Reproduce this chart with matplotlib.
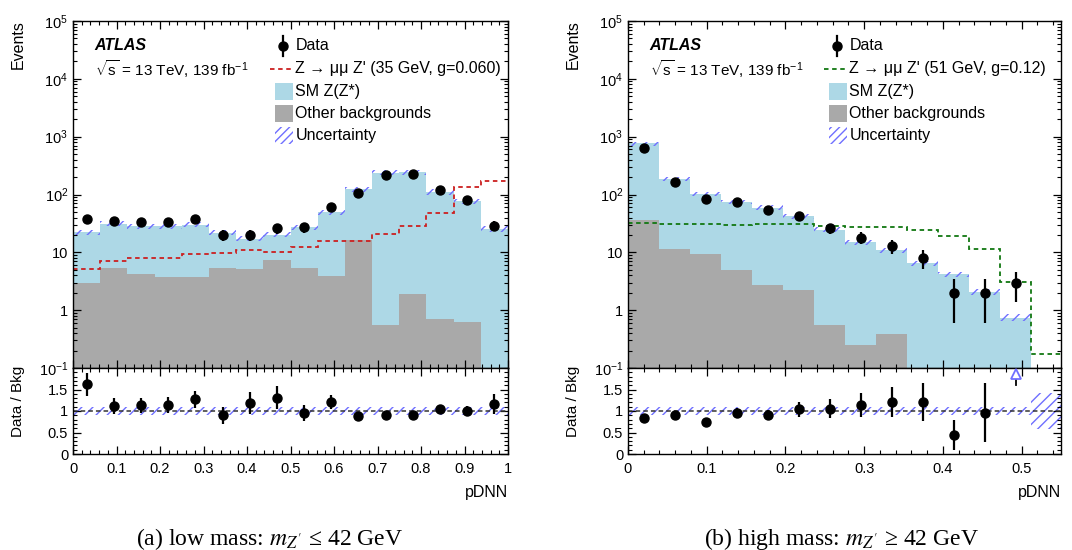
import numpy as np
import matplotlib
matplotlib.use("Agg")
import matplotlib.pyplot as plt
from matplotlib.patches import Rectangle
from matplotlib.ticker import FixedLocator, MultipleLocator, LogLocator, NullFormatter

plt.rcParams['font.family'] = ['Liberation Sans', 'DejaVu Sans']
plt.rcParams['mathtext.fontset'] = 'custom'
plt.rcParams['mathtext.rm'] = 'Liberation Sans'
plt.rcParams['mathtext.it'] = 'Liberation Sans:italic'
plt.rcParams['mathtext.bf'] = 'Liberation Sans:bold'
plt.rcParams['hatch.linewidth'] = 1.0

HATCH = '#6f6fff'
plt.rcParams['hatch.color'] = HATCH
SMZ_COL = '#add8e6'
OTHER_COL = '#a9a9a9'

# ---------------- low mass (a) ----------------
low_edges = np.linspace(0, 1, 17)
low_smz = [19.5, 26.0, 24.4, 24.9, 26.3, 16.5, 12.2, 13.0, 22.1, 45.5, 107.4, 236.4, 241.1, 110.3, 75.9, 25.4]
low_other = [2.95, 5.4, 4.2, 3.75, 3.75, 5.4, 5.1, 7.3, 5.4, 3.9, 16.2, 0.56, 1.9, 0.69, 0.62, 0.05]
low_signal = [5.2, 7.1, 8.0, 8.0, 9.5, 9.8, 11.1, 10.2, 12.4, 15.7, 15.9, 21.1, 28.6, 48.0, 134, 172]
low_data = [37, 35, 33, 33, 38, 20, 20, 26, 27, 60, 108, 216, 224, 119, 80, 29]
low_data_err = [6.1, 5.9, 5.7, 5.7, 6.2, 4.5, 4.5, 5.1, 5.2, 7.7, 10.4, 14.7, 15.0, 10.9, 8.9, 5.4]
low_unc = [0.1] * 16
low_ratio = [1.62, 1.12, 1.13, 1.14, 1.27, 0.90, 1.18, 1.31, 0.96, 1.21, 0.88, 0.91, 0.91, 1.04, 1.00, 1.16]
low_ratio_err = [0.27, 0.18, 0.18, 0.18, 0.20, 0.20, 0.26, 0.26, 0.19, 0.16, 0.09, 0.06, 0.06, 0.09, 0.11, 0.23]

# ---------------- high mass (b) ----------------
high_edges = np.linspace(0, 0.512, 14)
high_sig_edges = np.append(high_edges, 0.551)
high_smz = [726, 177.5, 91.5, 69.6, 56.7, 39.8, 24.2, 14.85, 10.5, 6.56, 4.17, 2.07, 0.741]
high_other = [36, 11.5, 9.5, 4.9, 2.7, 2.2, 0.56, 0.25, 0.38, 0.0, 0.0, 0.0, 0.0]
high_signal = [32.7, 31.4, 30.6, 29.7, 30.3, 31.4, 28.3, 27.5, 27.5, 24.1, 19.5, 11.6, 3.08, 0.172]
high_data = [625, 165, 83, 73, 55, 43, 26, 18, 13, 8, 2, 2, 3]
high_data_lo = [25, 12.8, 9.1, 8.5, 7.4, 6.6, 5.1, 4.2, 3.6, 2.8, 1.4, 1.4, 1.6]
high_data_hi = [25, 12.8, 9.1, 8.5, 7.4, 6.6, 5.1, 4.2, 3.6, 3.1, 1.5, 1.5, 1.6]
high_unc = [0.08, 0.08, 0.08, 0.08, 0.09, 0.09, 0.09, 0.1, 0.1, 0.1, 0.11, 0.12, 0.14]
high_ratio_unc = [0.09, 0.09, 0.09, 0.09, 0.09, 0.09, 0.09, 0.09, 0.09, 0.09, 0.09, 0.09, 0.09, 0.42]
high_ratio = [0.83, 0.90, 0.75, 0.95, 0.90, 1.04, 1.05, 1.14, 1.20, 1.20, 0.44, 0.96, 4.05]
high_ratio_err = [0.05, 0.07, 0.08, 0.11, 0.12, 0.17, 0.22, 0.29, 0.35, 0.44, 0.34, 0.69, 2.45]

W, H = 1072, 550
fig = plt.figure(figsize=(W / 100, H / 100), dpi=100)


def px(x0, y0, x1, y1):
    return [x0 / W, 1 - y1 / H, (x1 - x0) / W, (y1 - y0) / H]


def style_axis(ax):
    ax.tick_params(which='both', direction='in', top=True, right=True, labelsize=10.5)
    ax.tick_params(which='major', length=5.5, width=0.9)
    ax.tick_params(which='minor', length=3, width=0.8)
    for s in ax.spines.values():
        s.set_linewidth(1.0)


def draw_panel(x0, x1, edges, sig_edges, smz, other, signal, sig_color, data, dlo, dhi,
               unc, ratio, ratio_err, ratio_unc, ratio_unc_edges, xmax, sig_label, caption, cap_x):
    edges = np.asarray(edges)
    centers = 0.5 * (edges[1:] + edges[:-1])
    smz = np.asarray(smz)
    other = np.asarray(other)
    total = smz + other
    unc = np.asarray(unc)

    ax = fig.add_axes(px(x0, 21, x1, 368))
    rx = fig.add_axes(px(x0, 368, x1, 454))

    # stacked backgrounds
    ax.stairs(total, edges, baseline=1e-3, fill=True, color=SMZ_COL, lw=0)
    ax.stairs(np.where(other > 0, other, 1e-3), edges, baseline=1e-3, fill=True, color=OTHER_COL, lw=0)
    # uncertainty band
    ax.stairs(total * (1 + unc), edges, baseline=total * (1 - unc), fill=True,
              facecolor='none', edgecolor=HATCH, hatch='///', lw=0)
    # signal
    ax.stairs(signal, sig_edges, baseline=None, color=sig_color, lw=1.3, ls=(0, (2.5, 2)))
    # data
    ax.errorbar(centers, data, yerr=[dlo, dhi], fmt='o', color='black', ms=6.5,
                elinewidth=1.6, capsize=0, zorder=5)

    ax.set_yscale('log')
    ax.set_ylim(0.1, 1e5)
    ax.set_xlim(0, xmax)
    ax.yaxis.set_major_locator(FixedLocator([0.1, 1, 10, 100, 1e3, 1e4, 1e5]))
    ax.set_yticklabels(['$10^{-1}$', '1', '10', '$10^2$', '$10^3$', '$10^4$', '$10^5$'])
    ax.yaxis.set_minor_locator(LogLocator(subs=np.arange(2, 10)))
    ax.yaxis.set_minor_formatter(NullFormatter())
    ax.xaxis.set_major_locator(MultipleLocator(0.1))
    ax.xaxis.set_minor_locator(MultipleLocator(0.02))
    ax.set_xticklabels([])
    style_axis(ax)

    # text block
    ax.text(0.05, 0.928, 'ATLAS', transform=ax.transAxes, fontsize=11.5,
            fontweight='bold', fontstyle='italic', va='center')
    ax.text(0.05, 0.862, r'$\sqrt{\mathrm{s}}$ = 13 TeV, 139 fb$^{\mathrm{-1}}$', transform=ax.transAxes,
            fontsize=11, va='center')

    # legend
    lx, tx, rows = 0.483, 0.511, [0.928, 0.862, 0.797, 0.734, 0.670]
    ax.plot([lx], [rows[0]], 'o', color='black', ms=6.5, transform=ax.transAxes)
    ax.plot([lx, lx], [rows[0] - 0.028, rows[0] + 0.028], color='black', lw=1.6, transform=ax.transAxes)
    ax.plot([lx - 0.03, lx + 0.02], [rows[1], rows[1]], color=sig_color, lw=1.3,
            ls=(0, (2.5, 2)), transform=ax.transAxes)
    bw, bh = 0.04, 0.05
    ax.add_patch(Rectangle((lx - 0.018, rows[2] - bh / 2), bw, bh, transform=ax.transAxes,
                           facecolor=SMZ_COL, lw=0))
    ax.add_patch(Rectangle((lx - 0.018, rows[3] - bh / 2), bw, bh, transform=ax.transAxes,
                           facecolor=OTHER_COL, lw=0))
    ax.add_patch(Rectangle((lx - 0.018, rows[4] - bh / 2), bw, bh, transform=ax.transAxes,
                           facecolor='none', edgecolor=HATCH, hatch='////', lw=0))
    labels = ['Data', sig_label, 'SM Z(Z*)', 'Other backgrounds', 'Uncertainty']
    for r, lab in zip(rows, labels):
        ax.text(tx, r, lab, transform=ax.transAxes, fontsize=11.5, va='center',
                family=['Liberation Sans', 'DejaVu Sans'])

    # ratio panel
    ratio = np.asarray(ratio)
    ratio_err = np.asarray(ratio_err)
    ratio_unc = np.asarray(ratio_unc)
    rx.stairs(1 + ratio_unc, ratio_unc_edges, baseline=1 - ratio_unc, fill=True,
              facecolor='none', edgecolor=HATCH, hatch='///', lw=0)
    rx.axhline(1, color='#333333', lw=1.1, ls=(0, (3, 2)))
    inr = ratio <= 2
    rx.errorbar(centers[inr], ratio[inr], yerr=ratio_err[inr], fmt='o', color='black', ms=6.5,
                elinewidth=1.6, capsize=0, zorder=5)
    for c, r, e in zip(centers[~inr], ratio[~inr], ratio_err[~inr]):
        rx.plot([c, c], [r - e, 1.74], color='black', lw=1.3)
        rx.plot([c], [1.86], marker='^', ms=7, mfc='white', mec=HATCH, mew=1.3, clip_on=False, zorder=6)
    rx.set_xlim(0, xmax)
    rx.set_ylim(0, 2)
    rx.yaxis.set_major_locator(FixedLocator([0, 0.5, 1, 1.5]))
    rx.set_yticklabels(['0', '0.5', '1', '1.5'])
    rx.yaxis.set_minor_locator(MultipleLocator(0.1))
    rx.xaxis.set_major_locator(MultipleLocator(0.1))
    rx.xaxis.set_minor_locator(MultipleLocator(0.02))
    rx.xaxis.set_major_formatter(matplotlib.ticker.FuncFormatter(lambda v, p: f'{v:g}'))
    style_axis(rx)
    rx.tick_params(axis='x', pad=6)

    # axis titles
    fig.text((x0 - 55) / W, 1 - 20 / H, 'Events', rotation=90, ha='center', va='top', fontsize=11.5)
    fig.text((x0 - 55) / W, 1 - 366 / H, 'Data / Bkg', rotation=90, ha='center', va='top', fontsize=11)
    fig.text(x1 / W, 1 - 493 / H, 'pDNN', ha='right', va='center', fontsize=11.5)
    fig.text(cap_x / W, 1 - 539 / H, caption, ha='center', va='center', fontsize=17,
             family=['Liberation Serif', 'DejaVu Serif'], math_fontfamily='stix')


draw_panel(73, 508, low_edges, low_edges, low_smz, low_other, low_signal, '#cc2020',
           low_data, low_data_err, low_data_err, low_unc, low_ratio, low_ratio_err,
           low_unc, low_edges, 1.0, "Z → μμ Z' (35 GeV, g=0.060)",
           r"(a) low mass: $m_{Z'}$ ≤ 42 GeV", 270)

draw_panel(628, 1061, high_edges, high_sig_edges, high_smz, high_other, high_signal, '#117711',
           high_data, high_data_lo, high_data_hi, high_unc, high_ratio, high_ratio_err,
           high_ratio_unc, high_sig_edges, 0.55, "Z → μμ Z' (51 GeV, g=0.12)",
           r"(b) high mass: $m_{Z'}$ ≥ 42 GeV", 842)

fig.savefig('out.png', dpi=100)
